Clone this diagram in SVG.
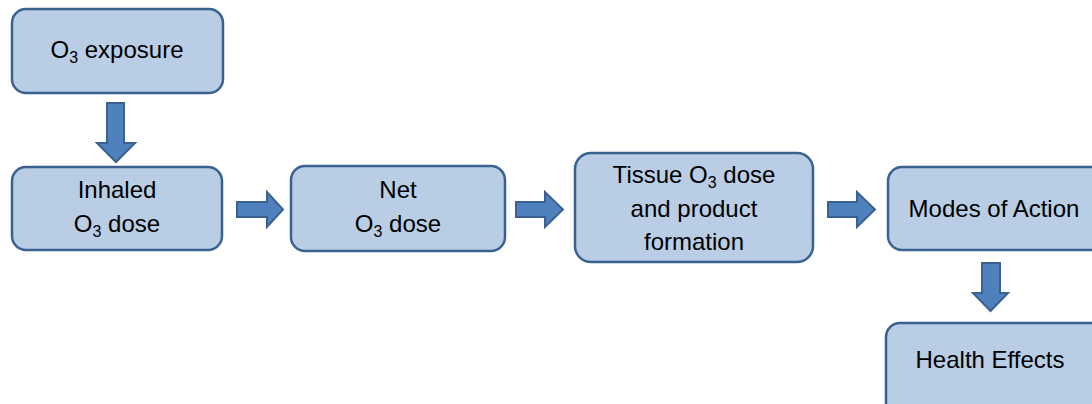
<svg xmlns="http://www.w3.org/2000/svg" width="1092" height="404" viewBox="0 0 1092 404">
<style>
.box{fill:#B9CDE5;stroke:#3A6190;stroke-width:2.5}
.arr{fill:#4F81BD;stroke:#3A6190;stroke-width:2}
.t{font-family:"Liberation Sans",Arial,sans-serif;font-size:24px;fill:#000;text-anchor:middle}
.sub{font-size:16px}
</style>
<rect width="1092" height="404" fill="#fff"/>
<g id="connectors">
<path class="arr" d="M107,103 H124 V143 H135 L116,162 L97,143 H107 Z"/>
<path class="arr" d="M237,202 H267 V192 L283,209.5 L267,227 V217 H237 Z"/>
<path class="arr" d="M516,202 H545 V192 L563,209.5 L545,227 V217 H516 Z"/>
<path class="arr" d="M828,202 H857 V192 L875,209.5 L857,227 V217 H828 Z"/>
<path class="arr" d="M982,263 H1000 V293 H1008 L990.5,311 L973,293 H982 Z"/>
</g>
<g id="exposure">
<rect class="box" x="12" y="9" width="211" height="84" rx="14"/>
<text class="t" x="117" y="58">O<tspan class="sub" dy="5">3</tspan><tspan dy="-5"> exposure</tspan></text>
</g>
<g id="inhaled">
<rect class="box" x="12" y="167" width="210" height="83" rx="14"/>
<text class="t" x="117" y="198">Inhaled</text>
<text class="t" x="117" y="232">O<tspan class="sub" dy="5">3</tspan><tspan dy="-5"> dose</tspan></text>
</g>
<g id="net">
<rect class="box" x="291" y="166" width="214" height="85" rx="14"/>
<text class="t" x="398" y="198">Net</text>
<text class="t" x="398" y="232">O<tspan class="sub" dy="5">3</tspan><tspan dy="-5"> dose</tspan></text>
</g>
<g id="tissue">
<rect class="box" x="575" y="153" width="238" height="109" rx="16"/>
<text class="t" x="694" y="183">Tissue O<tspan class="sub" dy="5">3</tspan><tspan dy="-5"> dose</tspan></text>
<text class="t" x="694" y="217">and product</text>
<text class="t" x="694" y="250">formation</text>
</g>
<g id="modes">
<rect class="box" x="888" y="167" width="220" height="83" rx="14"/>
<text class="t" x="994" y="217">Modes of Action</text>
</g>
<g id="health">
<rect class="box" x="886" y="323" width="220" height="100" rx="14"/>
<text class="t" x="990" y="368">Health Effects</text>
</g>
</svg>
